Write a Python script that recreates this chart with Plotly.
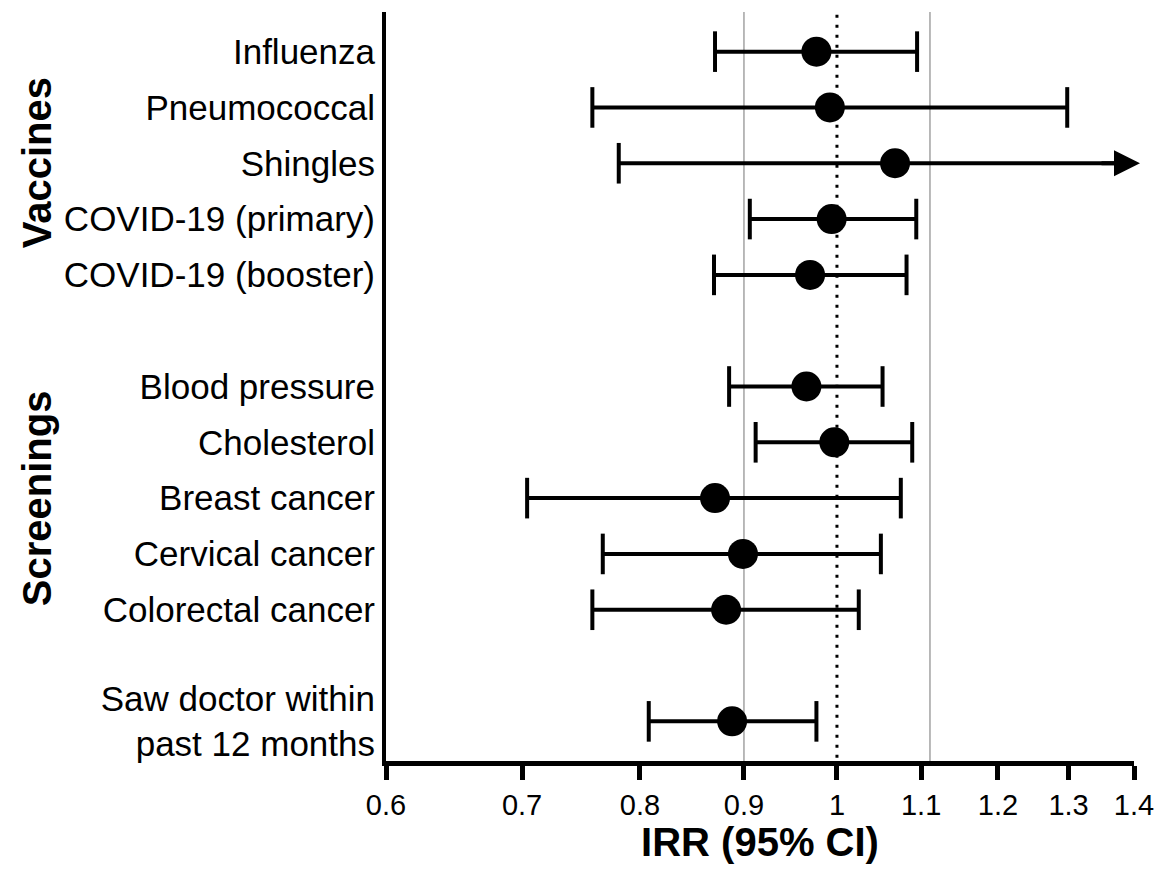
import numpy as np
import plotly.graph_objects as go

# ---------------- data ----------------
categories = ["Influenza", "Pneumococcal", "Shingles", "COVID-19 (primary)", "COVID-19 (booster)",
              "Blood pressure", "Cholesterol", "Breast cancer", "Cervical cancer", "Colorectal cancer",
              "Saw doctor within<br>past 12 months"]
groups = ["Vaccines"] * 5 + ["Screenings"] * 5 + ["Other"]
irr = [0.977, 0.992, 1.068, 0.994, 0.970, 0.966, 0.997, 0.871, 0.899, 0.882, 0.888]
ci_low = [0.871, 0.758, 0.781, 0.906, 0.870, 0.885, 0.912, 0.704, 0.767, 0.758, 0.808]
ci_high = [1.095, 1.298, 1.45, 1.094, 1.082, 1.053, 1.089, 1.075, 1.051, 1.025, 0.977]  # shingles upper is off-scale
x_ticks = [0.6, 0.7, 0.8, 0.9, 1.0, 1.1, 1.2, 1.3, 1.4]
x_tick_text = ["0.6", "0.7", "0.8", "0.9", "1", "1.1", "1.2", "1.3", "1.4"]
null_value = 1.0
equiv_band = [0.9, 1 / 0.9]

X_MIN, X_MAX = 0.6, 1.4
FONT = "Liberation Sans, Arial, Helvetica, sans-serif"

# row positions: one empty slot between groups
pos = []
p = 0
for i, g in enumerate(groups):
    if i > 0 and g != groups[i - 1]:
        p += 1
    pos.append(p)
    p += 1

fig = go.Figure()

# reference lines (as traces spanning the y range)
y_top, y_bot = -0.71, max(pos) + 0.71
for v in equiv_band:
    fig.add_trace(go.Scatter(x=[v, v], y=[y_top, y_bot], mode="lines",
                             line=dict(color="#a8a8a8", width=1.6),
                             hoverinfo="skip", showlegend=False))
fig.add_trace(go.Scatter(x=[null_value, null_value], y=[y_top + 0.05, y_bot], mode="lines",
                         line=dict(color="black", width=3, dash="3px,7px"),
                         hoverinfo="skip", showlegend=False))

# CI lines (clipped at axis max)
lx, ly = [], []
cap_x, cap_y = [], []
for lo, hi, y in zip(ci_low, ci_high, pos):
    lx += [lo, min(hi, X_MAX), None]
    ly += [y, y, None]
    cap_x.append(lo); cap_y.append(y)
    if hi <= X_MAX:
        cap_x.append(hi); cap_y.append(y)

fig.add_trace(go.Scatter(x=lx, y=ly, mode="lines", line=dict(color="black", width=4),
                         hoverinfo="skip", showlegend=False, cliponaxis=False))
fig.add_trace(go.Scatter(x=cap_x, y=cap_y, mode="markers",
                         marker=dict(symbol="line-ns", size=29, line=dict(color="black", width=4)),
                         hoverinfo="skip", showlegend=False, cliponaxis=False))
fig.add_trace(go.Scatter(x=irr, y=pos, mode="markers",
                         marker=dict(symbol="circle", size=30, color="black"),
                         showlegend=False, cliponaxis=False))

# arrowheads for off-scale upper limits
for hi, y in zip(ci_high, pos):
    if hi > X_MAX:
        fig.add_annotation(x=np.log10(X_MAX), y=y, xref="x", yref="y", ax=-40, ay=0,
                           showarrow=True, arrowhead=2, arrowsize=1.3, arrowwidth=4,
                           arrowcolor="black", text="", xshift=6)

# group labels
for g in ["Vaccines", "Screenings"]:
    gp = [pp for pp, gg in zip(pos, groups) if gg == g]
    fig.add_annotation(x=-0.4665, y=float(np.mean(gp)), xref="paper", yref="y", text="<b>%s</b>" % g,
                       textangle=-90, showarrow=False, xanchor="center", yanchor="middle",
                       font=dict(family=FONT, size=40, color="black"))

fig.update_layout(
    width=1155, height=856,
    margin=dict(l=378, r=29, t=4, b=103),
    plot_bgcolor="white", paper_bgcolor="white",
    font=dict(family=FONT, color="black"),
    xaxis=dict(type="log", range=[np.log10(X_MIN), np.log10(X_MAX)],
               tickvals=x_ticks, ticktext=x_tick_text,
               showgrid=False, zeroline=False,
               showline=True, linecolor="black", linewidth=5,
               ticks="outside", ticklen=14, tickwidth=5, tickcolor="black",
               tickfont=dict(family=FONT, size=29, color="black"),
               title=dict(text="<b>IRR (95% CI)</b>", font=dict(family=FONT, size=40, color="black"),
                          standoff=8)),
    yaxis=dict(range=[y_bot, y_top], tickvals=pos, ticktext=categories,
               showgrid=False, zeroline=False,
               showline=True, linecolor="black", linewidth=4,
               ticks="", tickfont=dict(family=FONT, size=35, color="black")),
)

fig.write_html("out.html")
